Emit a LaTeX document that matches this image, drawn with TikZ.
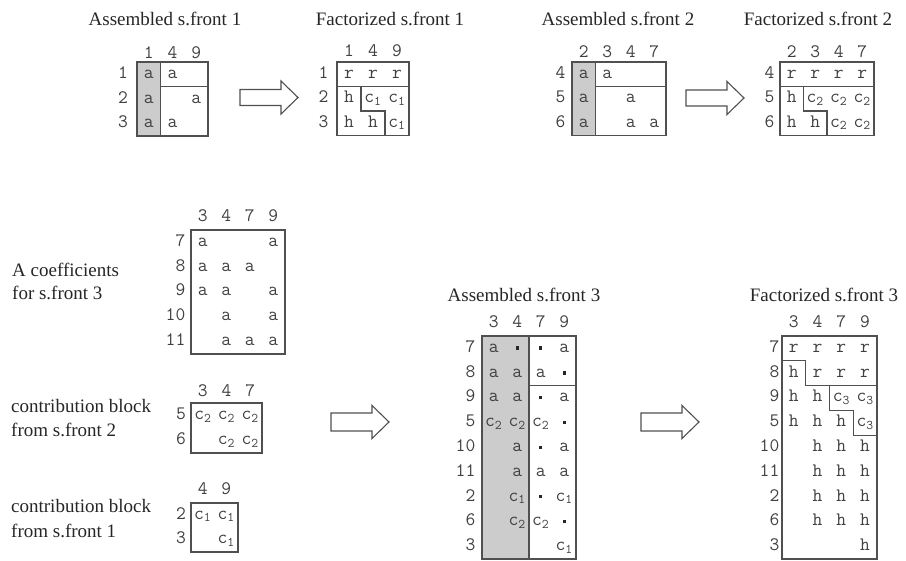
\documentclass[tikz,border=0pt]{standalone}
\usepackage{fontspec}
\setmainfont{Liberation Serif}
\definecolor{titlec}{HTML}{262626}
\definecolor{entc}{HTML}{404040}
\definecolor{framec}{HTML}{505050}
\definecolor{shadec}{HTML}{CCCCCC}
\newcommand\csub[1]{c\textsubscript{#1}}
\newcommand\sqd{\textcolor{black!85}{\raisebox{2.6pt}{\rule{3.4pt}{3.4pt}}}}
\newcommand\mxset[6]{\def\mL{#1}\def\mT{#2}\def\mW{#3}\def\mH{#4}\def\mG{#5}\def\mC{#6}}
\newcommand\mxx[1]{\mL+(#1-0.5)*\mW}
\newcommand\mxy[1]{\mT+(#1-0.5)*\mH+4}
\tikzset{
  frame/.style={draw=framec, line width=1.1pt},
  inner/.style={draw=framec, line width=1.1pt},
  title/.style={anchor=base, inner sep=0pt, text=titlec, font=\fontsize{19}{22}\selectfont},
  side/.style={anchor=base west, inner sep=0pt, text=titlec, font=\fontsize{19}{22}\selectfont},
  ent/.style={anchor=base, inner sep=0pt, text=entc, font=\ttfamily\fontsize{19}{21}\selectfont},
  rlab/.style={ent, anchor=base east},
  barrow/.style={draw=framec, line width=1.1pt, fill=white, line join=miter},
}
\newcommand\blockarrow[5]{% x0, xhead, xtip, yc, shaft half
  \draw[barrow] (#1,#4-#5) -- (#2,#4-#5) -- (#2,#4-16.5) -- (#3,#4) -- (#2,#4+16.5)
    -- (#2,#4+#5) -- (#1,#4+#5) -- cycle;}
\begin{document}
\begin{tikzpicture}[x=1pt,y=-1pt]
\useasboundingbox (0,0) rectangle (906,561);

% ---------------- Assembled s.front 1
\node[title] (tA) at (165,26) {Assembled s.front 1};
\mxset{137}{62}{23.67}{24.67}{9}{3.5}
\fill[shadec] (137,62) rectangle (160.67,136);
\draw[inner] (160.67,62) -- (160.67,136);
\draw[inner] (160.67,86.67) -- (208,86.67);
\draw[frame] (137,62) rectangle (208,136);
\foreach \c/\t in {1/1,2/4,3/9} \node[ent] (A-col\c) at ({\mxx{\c}},{\mT-\mC}) {\t};
\foreach \r/\t in {1/1,2/2,3/3} \node[rlab] (A-row\r) at ({\mL-\mG},{\mxy{\r}}) {\t};
\foreach \c/\r/\t in {1/1/a,2/1/a,1/2/a,3/2/a,1/3/a,2/3/a}
  \node[ent] (A-\r-\c) at ({\mxx{\c}},{\mxy{\r}}) {\t};

\blockarrow{240}{281}{298}{97.5}{8}

% ---------------- Factorized s.front 1
\node[title] (tB) at (390,26) {Factorized s.front 1};
\mxset{337}{62}{24}{24.5}{8.5}{5}
\draw[inner] (337,86.5) -- (409,86.5);
\draw[inner] (361,86.5) -- (361,111) -- (385,111) -- (385,135.5);
\draw[frame] (337,62) rectangle (409,135.5);
\foreach \c/\t in {1/1,2/4,3/9} \node[ent] (B-col\c) at ({\mxx{\c}},{\mT-\mC}) {\t};
\foreach \r/\t in {1/1,2/2,3/3} \node[rlab] (B-row\r) at ({\mL-\mG},{\mxy{\r}}) {\t};
\foreach \c/\r/\t in {1/1/r,2/1/r,3/1/r,1/2/h,2/2/\csub{1},3/2/\csub{1},1/3/h,2/3/h,3/3/\csub{1}}
  \node[ent] (B-\r-\c) at ({\mxx{\c}},{\mxy{\r}}) {\t};

% ---------------- Assembled s.front 2
\node[title] (tC) at (618,26) {Assembled s.front 2};
\mxset{572}{62}{23.5}{24.5}{6.5}{4}
\fill[shadec] (572,62) rectangle (595.5,135.5);
\draw[inner] (595.5,62) -- (595.5,135.5);
\draw[inner] (595.5,86.5) -- (666,86.5);
\draw[frame] (572,62) rectangle (666,135.5);
\foreach \c/\t in {1/2,2/3,3/4,4/7} \node[ent] (C-col\c) at ({\mxx{\c}},{\mT-\mC}) {\t};
\foreach \r/\t in {1/4,2/5,3/6} \node[rlab] (C-row\r) at ({\mL-\mG},{\mxy{\r}}) {\t};
\foreach \c/\r/\t in {1/1/a,2/1/a,1/2/a,3/2/a,1/3/a,3/3/a,4/3/a}
  \node[ent] (C-\r-\c) at ({\mxx{\c}},{\mxy{\r}}) {\t};

\blockarrow{686}{727}{744}{98}{8}

% ---------------- Factorized s.front 2
\node[title] (tD) at (818,26) {Factorized s.front 2};
\mxset{780}{62}{23.5}{24.5}{5.5}{4}
\draw[inner] (780,86.5) -- (874,86.5);
\draw[inner] (803.5,86.5) -- (803.5,111) -- (827,111) -- (827,135.5);
\draw[frame] (780,62) rectangle (874,135.5);
\foreach \c/\t in {1/2,2/3,3/4,4/7} \node[ent] (D-col\c) at ({\mxx{\c}},{\mT-\mC}) {\t};
\foreach \r/\t in {1/4,2/5,3/6} \node[rlab] (D-row\r) at ({\mL-\mG},{\mxy{\r}}) {\t};
\foreach \c/\r/\t in {1/1/r,2/1/r,3/1/r,4/1/r,1/2/h,2/2/\csub{2},3/2/\csub{2},4/2/\csub{2},1/3/h,2/3/h,3/3/\csub{2},4/3/\csub{2}}
  \node[ent] (D-\r-\c) at ({\mxx{\c}},{\mxy{\r}}) {\t};

% ---------------- A coefficients for s.front 3
\node[side] (tE1) at (12,277) {A coefficients};
\node[side] (tE2) at (12,300) {for s.front 3};
\mxset{191}{230}{23.5}{24.8}{5.5}{8}
\draw[frame] (191,230) rectangle (285,354);
\foreach \c/\t in {1/3,2/4,3/7,4/9} \node[ent] (E-col\c) at ({\mxx{\c}},{\mT-\mC}) {\t};
\foreach \r/\t in {1/7,2/8,3/9,4/10,5/11} \node[rlab] (E-row\r) at ({\mL-\mG},{\mxy{\r}}) {\t};
\foreach \c/\r/\t in {1/1/a,4/1/a,1/2/a,2/2/a,3/2/a,1/3/a,2/3/a,4/3/a,2/4/a,4/4/a,2/5/a,3/5/a,4/5/a}
  \node[ent] (E-\r-\c) at ({\mxx{\c}},{\mxy{\r}}) {\t};

% ---------------- contribution block from s.front 2
\node[side] (tF1) at (11,413) {contribution block};
\node[side] (tF2) at (11,437) {from s.front 2};
\mxset{191}{403}{23.67}{25}{5}{6}
\draw[frame] (191,403) rectangle (262,453);
\foreach \c/\t in {1/3,2/4,3/7} \node[ent] (F-col\c) at ({\mxx{\c}},{\mT-\mC}) {\t};
\foreach \r/\t in {1/5,2/6} \node[rlab] (F-row\r) at ({\mL-\mG},{\mxy{\r}}) {\t};
\foreach \c/\r/\t in {1/1/\csub{2},2/1/\csub{2},3/1/\csub{2},2/2/\csub{2},3/2/\csub{2}}
  \node[ent] (F-\r-\c) at ({\mxx{\c}},{\mxy{\r}}) {\t};

% ---------------- contribution block from s.front 1
\node[side] (tG1) at (11,512) {contribution block};
\node[side] (tG2) at (11,537) {from s.front 1};
\mxset{191}{503}{23.5}{24.5}{5}{8}
\draw[frame] (191,503) rectangle (238,552);
\foreach \c/\t in {1/4,2/9} \node[ent] (G-col\c) at ({\mxx{\c}},{\mT-\mC}) {\t};
\foreach \r/\t in {1/2,2/3} \node[rlab] (G-row\r) at ({\mL-\mG},{\mxy{\r}}) {\t};
\foreach \c/\r/\t in {1/1/\csub{1},2/1/\csub{1},2/2/\csub{1}}
  \node[ent] (G-\r-\c) at ({\mxx{\c}},{\mxy{\r}}) {\t};

\blockarrow{331}{372}{389}{422}{9}

% ---------------- Assembled s.front 3
\node[title] (tH) at (524,302) {Assembled s.front 3};
\mxset{482}{336}{23.5}{24.78}{6.5}{8}
\fill[shadec] (482,336) rectangle (529,559);
\draw[inner] (529,336) -- (529,559);
\draw[inner] (529,385.56) -- (576,385.56);
\draw[frame] (482,336) rectangle (576,559);
\foreach \c/\t in {1/3,2/4,3/7,4/9} \node[ent] (H-col\c) at ({\mxx{\c}},{\mT-\mC}) {\t};
\foreach \r/\t in {1/7,2/8,3/9,4/5,5/10,6/11,7/2,8/6,9/3} \node[rlab] (H-row\r) at ({\mL-\mG},{\mxy{\r}}) {\t};
\foreach \c/\r/\t in {1/1/a,2/1/\sqd,3/1/\sqd,4/1/a,
                      1/2/a,2/2/a,3/2/a,4/2/\sqd,
                      1/3/a,2/3/a,3/3/\sqd,4/3/a,
                      1/4/\csub{2},2/4/\csub{2},3/4/\csub{2},4/4/\sqd,
                      2/5/a,3/5/\sqd,4/5/a,
                      2/6/a,3/6/a,4/6/a,
                      2/7/\csub{1},3/7/\sqd,4/7/\csub{1},
                      2/8/\csub{2},3/8/\csub{2},4/8/\sqd,
                      4/9/\csub{1}}
  \node[ent] (H-\r-\c) at ({\mxx{\c}},{\mxy{\r}}) {\t};

\blockarrow{641}{682}{699}{422}{9}

% ---------------- Factorized s.front 3
\node[title] (tI) at (824,302) {Factorized s.front 3};
\mxset{782}{336}{23.75}{24.78}{2.5}{8}
\draw[inner] (782,360.78) -- (805.75,360.78) -- (805.75,385.56) -- (877,385.56);
\draw[inner] (829.5,385.56) -- (829.5,410.34) -- (853.25,410.34) -- (853.25,435.12) -- (877,435.12);
\draw[frame] (782,336) rectangle (877,559);
\foreach \c/\t in {1/3,2/4,3/7,4/9} \node[ent] (I-col\c) at ({\mxx{\c}},{\mT-\mC}) {\t};
\foreach \r/\t in {1/7,2/8,3/9,4/5,5/10,6/11,7/2,8/6,9/3} \node[rlab] (I-row\r) at ({\mL-\mG},{\mxy{\r}}) {\t};
\foreach \c/\r/\t in {1/1/r,2/1/r,3/1/r,4/1/r,
                      1/2/h,2/2/r,3/2/r,4/2/r,
                      1/3/h,2/3/h,3/3/\csub{3},4/3/\csub{3},
                      1/4/h,2/4/h,3/4/h,4/4/\csub{3},
                      2/5/h,3/5/h,4/5/h,
                      2/6/h,3/6/h,4/6/h,
                      2/7/h,3/7/h,4/7/h,
                      2/8/h,3/8/h,4/8/h,
                      4/9/h}
  \node[ent] (I-\r-\c) at ({\mxx{\c}},{\mxy{\r}}) {\t};
\end{tikzpicture}
\end{document}
